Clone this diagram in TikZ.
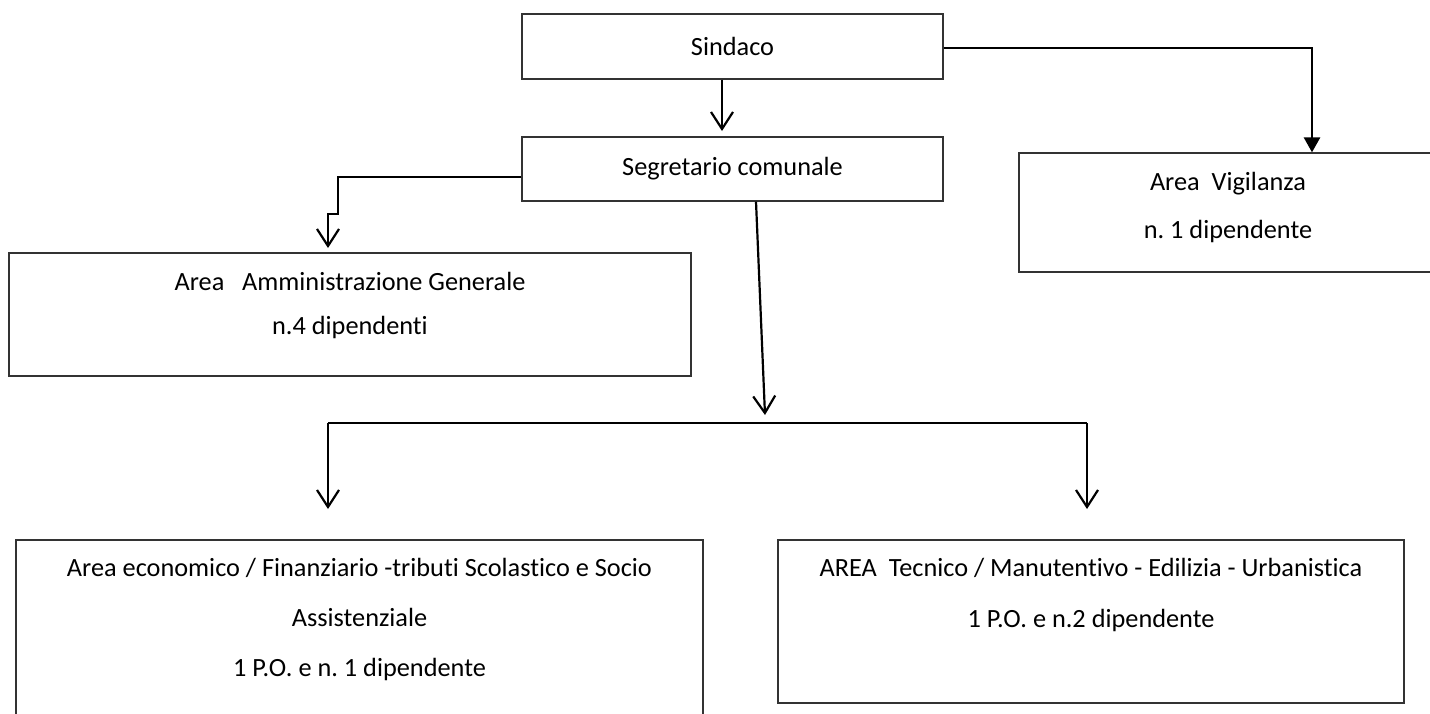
\documentclass[tikz,border=0pt]{standalone}
\usepackage{fontspec}
\setmainfont{Carlito}[Ligatures=NoCommon]
\usetikzlibrary{arrows.meta}
\frenchspacing
\tikzset{
  box/.style={draw=black!80, line width=1.3pt, rectangle, inner sep=0pt},
  lbl/.style={align=center, inner sep=0pt},
  conn/.style={draw=black, line width=2.2pt},
  openarr/.style={conn, -{Straight Barb[length=17pt,width=22pt,line width=2.2pt]}},
  fillarr/.style={draw=black, line width=2.8pt, -{Triangle[length=15pt,width=16pt]}}
}
\begin{document}
\begin{tikzpicture}[x=1pt,y=-1pt, font=\fontsize{26.3}{31}\selectfont]
\path[use as bounding box, fill=white] (0,0) rectangle (1430,713);
% boxes
\node[box, minimum width=421pt, minimum height=65pt] (sind) at (732.5,46.5) {Sindaco};
\node[box, minimum width=421pt, minimum height=64pt] (seg) at (732.5,169) {Segretario comunale};
\node[box, minimum width=682pt, minimum height=123pt] (amm) at (350,314.5) {};
\node[box, minimum width=418pt, minimum height=119pt] (vig) at (1228,212.5) {};
\node[box, minimum width=687pt, minimum height=220pt] (bl) at (359.5,650) {};
\node[box, minimum width=626pt, minimum height=163pt] (br) at (1091,621.5) {};
% texts
\node[lbl, font=\fontsize{26.3}{44}\selectfont] (ammt) at (350,305) {Area\ \ \ Amministrazione Generale\\n.4 dipendenti};
\node[lbl, font=\fontsize{26.3}{48}\selectfont] (vigt) at (1228,207) {Area\ \ Vigilanza\\n. 1 dipendente};
\node[lbl, font=\fontsize{26.3}{50}\selectfont] (blt) at (359.5,619) {Area economico / Finanziario -tributi Scolastico e Socio\\Assistenziale\\1 P.O. e n. 1 dipendente};
\node[lbl, font=\fontsize{26.3}{51}\selectfont] (brt) at (1091,595) {AREA\ \ Tecnico / Manutentivo - Edilizia - Urbanistica\\1 P.O. e n.2 dipendente};
% coordinates
\coordinate (s2tip) at (722,131);
\coordinate (vcorner) at (1312,48);
\coordinate (a1) at (338,177);
\coordinate (a2) at (338,214);
\coordinate (a3) at (328,214);
\coordinate (atip) at (328,248);
\coordinate (jstart) at (756,201);
\coordinate (jtip) at (765,415);
\coordinate (busL) at (328,423);
\coordinate (busR) at (1087,423);
\coordinate (tipL) at (328,509);
\coordinate (tipR) at (1087,509);
% connectors
\draw[openarr] (sind.south -| s2tip) -- (s2tip);
\draw[fillarr] (sind.east |- vcorner) -- (vcorner) -- (vig.north -| vcorner);
\draw[openarr] (seg.west |- a1) -- (a1) -- (a2) -- (a3) -- (atip);
\draw[openarr] (seg.south -| jstart) -- (jtip);
\draw[conn] (busL) -- (busR);
\draw[openarr] (busL) -- (tipL);
\draw[openarr] (busR) -- (tipR);
\end{tikzpicture}
\end{document}
